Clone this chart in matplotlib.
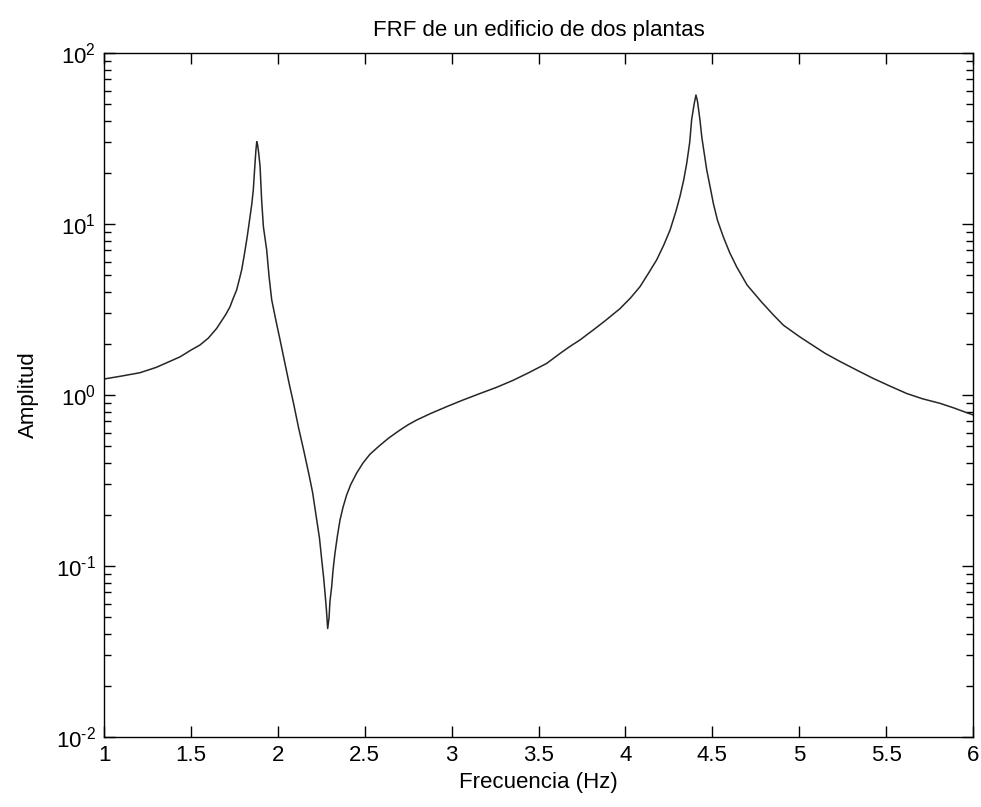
import numpy as np
import matplotlib
matplotlib.use("Agg")
import matplotlib.pyplot as plt
from matplotlib.ticker import FixedLocator, LogLocator

plt.rcParams['font.family'] = ['Liberation Sans', 'DejaVu Sans']
plt.rcParams['mathtext.default'] = 'regular'

# values
frecuencia = [1.00, 1.10, 1.207, 1.30, 1.437, 1.50, 1.552, 1.60, 1.648, 1.70,
              1.725, 1.74, 1.763, 1.78, 1.792, 1.805, 1.821, 1.83, 1.840, 1.85,
              1.859, 1.864, 1.869, 1.874, 1.879, 1.884, 1.89, 1.898, 1.907, 1.917,
              1.936, 1.95, 1.965, 1.99, 2.013, 2.04, 2.065, 2.09, 2.12, 2.15,
              2.18, 2.20, 2.224, 2.24, 2.253, 2.263, 2.272, 2.28, 2.287, 2.295,
              2.30, 2.31, 2.318, 2.329, 2.343, 2.358, 2.375, 2.396, 2.42, 2.454,
              2.49, 2.53, 2.58, 2.636, 2.703, 2.75, 2.799, 2.88, 2.972, 3.06,
              3.163, 3.26, 3.355, 3.45, 3.547, 3.624, 3.68, 3.739, 3.815, 3.88,
              3.969, 4.03, 4.084, 4.13, 4.18, 4.22, 4.257, 4.29, 4.314, 4.335,
              4.353, 4.37, 4.381, 4.395, 4.406, 4.415, 4.429, 4.44, 4.468, 4.49,
              4.506, 4.53, 4.563, 4.60, 4.64, 4.70, 4.783, 4.85, 4.909, 5.00,
              5.062, 5.15, 5.235, 5.33, 5.426, 5.52, 5.619, 5.71, 5.81, 5.89,
              5.964, 6.0]
amplitud = [1.24, 1.29, 1.35, 1.45, 1.67, 1.83, 1.96, 2.15, 2.45, 2.95,
            3.28, 3.6, 4.11, 4.8, 5.38, 6.4, 8.06, 9.3, 11.0, 13.0,
            15.8, 19.0, 22.7, 27.0, 30.3, 29.0, 26.0, 21.7, 13.8, 9.66,
            7.05, 4.9, 3.6, 2.7, 2.1, 1.55, 1.17, 0.9, 0.64, 0.47,
            0.34, 0.27, 0.186, 0.145, 0.108, 0.087, 0.069, 0.055, 0.0431, 0.05,
            0.062, 0.0757, 0.095, 0.119, 0.15, 0.186, 0.22, 0.26, 0.30, 0.35,
            0.40, 0.45, 0.50, 0.558, 0.624, 0.67, 0.714, 0.78, 0.855, 0.93,
            1.02, 1.11, 1.22, 1.36, 1.53, 1.75, 1.92, 2.1, 2.4, 2.7,
            3.2, 3.7, 4.3, 5.1, 6.17, 7.5, 9.22, 11.8, 14.5, 18.0,
            22.7, 30.0, 40.6, 50.0, 56.8, 52.0, 40.6, 32.0, 20.7, 16.0,
            13.2, 10.5, 8.43, 6.8, 5.62, 4.4, 3.5, 2.95, 2.56, 2.2,
            2.0, 1.75, 1.57, 1.4, 1.25, 1.13, 1.02, 0.95, 0.894, 0.84,
            0.788, 0.765]

xticks = [1, 1.5, 2, 2.5, 3, 3.5, 4, 4.5, 5, 5.5, 6]
xticklabels = ['1', '1.5', '2', '2.5', '3', '3.5', '4', '4.5', '5', '5.5', '6']
yticks = [1e-2, 1e-1, 1e0, 1e1, 1e2]
yticklabels = ['$10^{\u2010 2}$', '$10^{\u2010 1}$', '$10^{0}$', '$10^{1}$', '$10^{2}$']

fig = plt.figure(figsize=(9.81, 8.07), dpi=100)
ax = fig.add_axes([104/981, 70/807, 869/981, 684/807])

ax.semilogy(frecuencia, amplitud, color='#262626', linewidth=1.1)

ax.set_xlim(1, 6)
ax.set_ylim(1e-2, 1e2)
ax.xaxis.set_major_locator(FixedLocator(xticks))
ax.set_xticklabels(xticklabels)
ax.yaxis.set_major_locator(FixedLocator(yticks))
ax.set_yticklabels(yticklabels)
ax.yaxis.set_minor_locator(LogLocator(base=10, subs=np.arange(2, 10), numticks=20))
ax.yaxis.set_minor_formatter(plt.NullFormatter())

ax.tick_params(which='both', direction='in', top=True, right=True,
               labelsize=16, colors='black', width=1.0, pad=6)
ax.tick_params(which='major', length=8)
ax.tick_params(which='minor', length=5)
for s in ax.spines.values():
    s.set_linewidth(1.0)
    s.set_color('black')

ax.set_title('FRF de un edificio de dos plantas', fontsize=16, pad=12)
ax.set_xlabel('Frecuencia (Hz)', fontsize=16, labelpad=4)
ax.set_ylabel('Amplitud', fontsize=16, labelpad=12)

fig.savefig('out.png', dpi=100, facecolor='white')
